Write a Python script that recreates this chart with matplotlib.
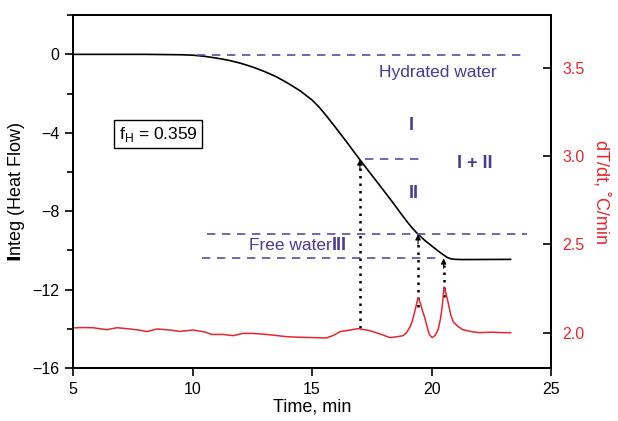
import matplotlib
matplotlib.use("Agg")
from matplotlib import pyplot as plt
from matplotlib.ticker import MultipleLocator

plt.rcParams["font.family"] = ["Liberation Sans", "DejaVu Sans"]

# integrated heat flow (left axis)
t_integ = [5.0, 8.0, 9.5, 10.0, 10.5, 11.0, 11.5, 12.0, 12.5, 13.0, 13.5, 14.0, 14.5,
           15.0, 15.3, 15.6, 16.0, 16.5, 17.0, 17.5, 18.0, 18.4, 18.7, 19.0, 19.2, 19.4,
           19.7, 20.1, 20.4, 20.65, 20.8, 21.0, 21.3, 23.3]
integ = [0.0, 0.0, -0.02, -0.04, -0.1, -0.19, -0.3, -0.45, -0.64, -0.87, -1.14, -1.48, -1.86,
         -2.33, -2.7, -3.14, -3.76, -4.56, -5.38, -6.17, -6.96, -7.6, -8.1, -8.58, -8.88, -9.14,
         -9.48, -9.87, -10.15, -10.36, -10.43, -10.46, -10.47, -10.46]

# heating rate (right axis)
t_rate = [5.0, 5.4, 5.84, 6.42, 6.84, 7.38, 7.8, 8.1, 8.51, 9.06, 9.48, 10.02, 10.52, 10.8,
          11.28, 11.7, 12.1, 12.5, 13.1, 13.5, 13.95, 14.5, 15.04, 15.6, 15.9, 16.17, 16.6,
          16.92, 17.43, 17.9, 18.26, 18.6, 18.8, 18.95, 19.1, 19.2, 19.31, 19.43, 19.52,
          19.6, 19.7, 19.81, 19.9, 20.02, 20.15, 20.27, 20.37, 20.44, 20.52, 20.6, 20.69,
          20.8, 20.9, 21.1, 21.3, 21.7, 22.0, 22.5, 23.0, 23.3]
rate = [2.027, 2.029, 2.028, 2.017, 2.028, 2.021, 2.014, 2.006, 2.021, 2.015, 2.007, 2.015,
        2.004, 1.99, 1.99, 1.983, 1.996, 1.996, 1.99, 1.984, 1.977, 1.974, 1.972, 1.97,
        1.985, 2.006, 2.015, 2.023, 2.011, 1.99, 1.972, 1.978, 1.983, 2.0, 2.034, 2.07,
        2.13, 2.198, 2.17, 2.13, 2.09, 2.034, 1.99, 1.972, 1.985, 2.017, 2.08, 2.147, 2.26,
        2.22, 2.17, 2.1, 2.062, 2.035, 2.017, 2.005, 2.0, 2.003, 2.0, 2.0]

# reference levels (dashed) and arrows
levels = [-0.02, -5.36, -9.18, -10.41]
level_x0 = [10.2, 17.2, 10.6, 10.4]
level_x1 = [23.9, 19.6, 24.0, 20.4]
arrow_t = [17.0, 19.43, 20.5]
arrow_from = [-13.98, -12.9, -12.4]
arrow_to = [-5.36, -9.18, -10.41]

purple = "#4a3a96"
dash = "#5a4aa6"
red = "#e8262e"

fig = plt.figure(figsize=(6.18, 4.21), dpi=100)
ax = fig.add_axes([0.118, 0.126, 0.774, 0.838])
ax2 = ax.twinx()

ax.plot(t_integ, integ, color="black", lw=1.2)
ax2.plot(t_rate, rate, color=red, lw=1.1)

for y, a, b in zip(levels, level_x0, level_x1):
    ax.plot([a, b], [y, y], color=dash, lw=1.2, dashes=(5, 4))

for x, y0, y1 in zip(arrow_t, arrow_from, arrow_to):
    ax.plot([x, x], [y0, y1 - 0.35], color="black", lw=1.8, linestyle=(0, (1, 2)))
    ax.annotate("", xy=(x, y1), xytext=(x, y1 - 0.5),
                arrowprops=dict(arrowstyle="-|>", color="black", lw=0.8,
                                mutation_scale=8, shrinkA=0, shrinkB=0))

ax.text(20.27, -0.95, "Hydrated water", color=purple, fontsize=12.5, ha="center", va="center")
ax.text(19.14, -3.62, "I", color=purple, fontsize=13, fontweight="bold", ha="center", va="center")
ax.text(19.23, -7.09, "II", color=purple, fontsize=13, fontweight="bold", ha="center", va="center")
ax.text(21.8, -5.56, "I + II", color=purple, fontsize=13, fontweight="bold", ha="center", va="center")
ax.text(15.84, -9.74, "Free water", color=purple, fontsize=12.5, ha="right", va="center")
ax.text(15.84, -9.74, "III", color=purple, fontsize=13, fontweight="bold", ha="left", va="center")
ax.text(8.56, -4.08, r"f$_\mathregular{H}$ = 0.359", fontsize=12.5, ha="center", va="center",
        bbox=dict(boxstyle="square,pad=0.25", fc="white", ec="black", lw=1))

ax.set_xlim(5, 25)
ax.set_ylim(-16, 2)
ax2.set_ylim(1.8, 3.8)
ax.set_xticks([5, 10, 15, 20, 25])
ax.set_yticks([0, -4, -8, -12, -16])
ax.yaxis.set_minor_locator(MultipleLocator(2))
ax2.set_yticks([2.0, 2.5, 3.0, 3.5])

ax.tick_params(axis="both", labelsize=11.5, direction="out", length=6, width=1.2)
ax.tick_params(axis="y", which="minor", direction="out", length=4, width=1.2)
ax2.tick_params(axis="y", labelsize=11.5, direction="in", length=6, width=1.2,
                colors="black", labelcolor=red, pad=8)
ax.tick_params(axis="x", pad=4)

for s in ["left", "right", "top", "bottom"]:
    ax.spines[s].set_linewidth(1.3)
    ax2.spines[s].set_linewidth(1.3)

ax.set_xlabel("Time, min", fontsize=13, labelpad=1)
ax.set_ylabel(r"$\mathbf{I}$nteg (Heat Flow)", fontsize=13, labelpad=4)
ax2.set_ylabel("dT/dt, ˚C/min", fontsize=13, color=red, rotation=270, labelpad=18)

fig.savefig("out.png", dpi=100)
